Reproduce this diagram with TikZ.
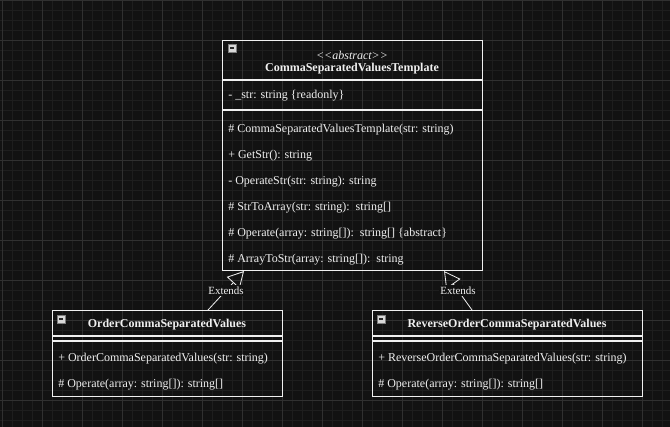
\documentclass[tikz,border=0pt]{standalone}
\usepackage{fontspec}
\setmainfont{Liberation Serif}
\usetikzlibrary{arrows.meta}
\definecolor{canvas}{RGB}{18,18,18}
\definecolor{minorgrid}{RGB}{30,30,30}
\definecolor{majorgrid}{RGB}{48,48,48}
\definecolor{ink}{RGB}{240,240,240}
\definecolor{iconfill}{RGB}{215,215,215}
\definecolor{icondash}{RGB}{40,40,40}

\begin{document}
\begin{tikzpicture}[x=0.75pt,y=-0.75pt,
    classbox/.style={draw=ink,line width=0.8pt,anchor=north west,inner sep=0pt},
    member/.style={text=ink,anchor=west,inner sep=0pt,font=\fontsize{9}{10}\selectfont},
    title/.style={text=ink,inner sep=0pt,font=\fontsize{9}{10}\selectfont\bfseries},
    extends/.style={draw=ink,line width=0.6pt,-{Triangle[open,length=12pt,width=13pt]}},
    tag/.style={text=ink,fill=canvas,inner sep=1pt,font=\fontsize{8.25}{9}\selectfont}]
    \useasboundingbox (0,0) rectangle (670,427);
    \fill[canvas] (0,0) rectangle (670,427);
    % background grid
    \foreach \x in {2,12,...,662} {
        \draw[minorgrid,line width=0.6pt] (\x,0) -- (\x,427);
    }
    \foreach \y in {0,10,...,420} {
        \draw[minorgrid,line width=0.6pt] (0,\y) -- (670,\y);
    }
    \foreach \x in {2,42,...,642} {
        \draw[majorgrid,line width=0.6pt] (\x,0) -- (\x,427);
    }
    \foreach \y in {0,40,...,400} {
        \draw[majorgrid,line width=0.6pt] (0,\y) -- (670,\y);
    }

    % abstract base class
    \node[classbox,minimum width=195pt,minimum height=172.5pt] (base) at (222,40) {};
    \draw[ink,line width=0.8pt] (222,80) -- (482,80);
    \draw[ink,line width=0.8pt] (222,110) -- (482,110);
    \node[text=ink,inner sep=0pt,font=\fontsize{9}{10}\selectfont\itshape] (stereo) at (352,55) {{<}{<}abstract{>}{>}};
    \node[title] (basename) at (352,69) {CommaSeparatedValuesTemplate};
    \node[member] (field) at (228,96) {- \_str: string \{readonly\}};
    \node[member] (ctor) at (228,130) {\# CommaSeparatedValuesTemplate(str: string)};
    \node[member] (getstr) at (228,156) {+ GetStr(): string};
    \node[member] (operatestr) at (228,182) {- OperateStr(str: string): string};
    \node[member] (strtoarray) at (228,208) {\# StrToArray(str: string):\ \ string[]};
    \node[member] (operate) at (228,234) {\# Operate(array: string[]):\ \ string[] \{abstract\}};
    \node[member] (arraytostr) at (228,260) {\# ArrayToStr(array: string[]):\ \ string};

    % derived classes
    \node[classbox,minimum width=172.5pt,minimum height=64.5pt] (order) at (52,310) {};
    \draw[ink,line width=0.8pt] (52,336) -- (282,336);
    \draw[ink,line width=0.8pt] (52,341) -- (282,341);
    \node[title] (ordername) at (167,325) {OrderCommaSeparatedValues};
    \node[member] (orderctor) at (58,359) {+ OrderCommaSeparatedValues(str: string)};
    \node[member] (orderop) at (58,385) {\# Operate(array: string[]): string[]};

    \node[classbox,minimum width=202.5pt,minimum height=64.5pt] (reverse) at (372,310) {};
    \draw[ink,line width=0.8pt] (372,336) -- (642,336);
    \draw[ink,line width=0.8pt] (372,341) -- (642,341);
    \node[title] (reversename) at (507,325) {ReverseOrderCommaSeparatedValues};
    \node[member] (reversector) at (378,359) {+ ReverseOrderCommaSeparatedValues(str: string)};
    \node[member] (reverseop) at (378,385) {\# Operate(array: string[]): string[]};

    % collapse icons
    \foreach \x/\y in {228/44,57/315,377/315} {
        \filldraw[fill=iconfill,draw=icondash!60,line width=0.4pt] (\x,\y) rectangle (\x+8,\y+8);
        \draw[icondash,line width=0.8pt] (\x+2,\y+4) -- (\x+6,\y+4);
    }

    % generalisation
    \draw[extends] ([xshift=117pt]order.north west) -- node[tag] {Extends} ([xshift=16.5pt]base.south west);
    \draw[extends] ([xshift=75pt]reverse.north west) -- node[tag] {Extends} ([xshift=-29.25pt]base.south east);
\end{tikzpicture}
\end{document}
